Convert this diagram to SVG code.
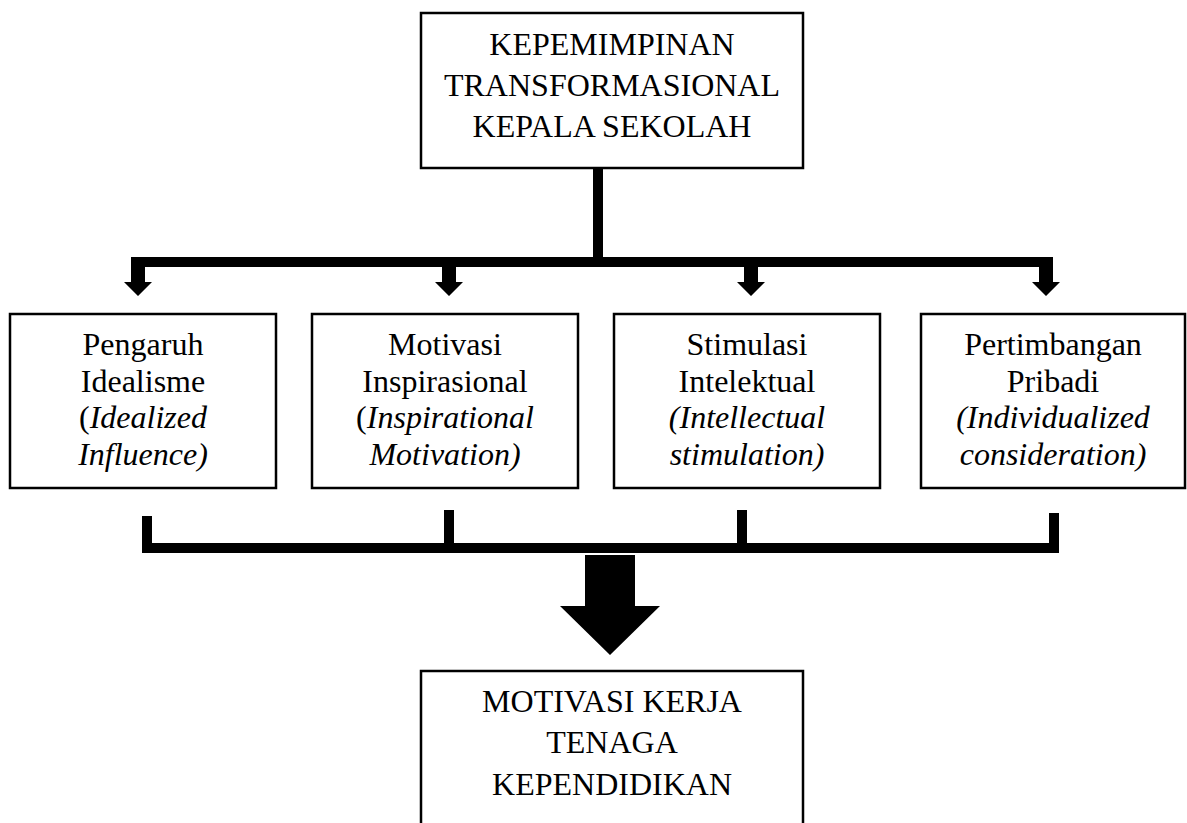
<svg xmlns="http://www.w3.org/2000/svg" width="1187" height="823" viewBox="0 0 1187 823">
<style>
.box{fill:#fff;stroke:#000;stroke-width:2.5}
.t{font-family:"Liberation Serif","Times New Roman",serif;font-size:32px;fill:#000;text-anchor:middle}
.i{font-style:italic}
.k{fill:#000;stroke:none}
</style>
<rect width="1187" height="823" fill="#fff"/>
<g id="connectors">
<rect class="k" x="593" y="168" width="10" height="99"/>
<rect class="k" x="131" y="257" width="922" height="10"/>
<path class="k" d="M131,267 h14 v15 h7 l-14,14 l-14,-14 h7 z"/>
<path class="k" d="M442,267 h14 v15 h7 l-14,14 l-14,-14 h7 z"/>
<path class="k" d="M744,267 h14 v15 h7 l-14,14 l-14,-14 h7 z"/>
<path class="k" d="M1039,267 h14 v15 h7 l-14,14 l-14,-14 h7 z"/>
<rect class="k" x="142" y="516" width="10" height="37"/>
<rect class="k" x="444" y="510" width="10" height="43"/>
<rect class="k" x="737" y="510" width="10" height="43"/>
<rect class="k" x="1049" y="513" width="10" height="40"/>
<rect class="k" x="142" y="543" width="917" height="10"/>
<path class="k" d="M585,555 h50 v51 h25 l-50,49 l-50,-49 h25 z"/>
</g>
<g id="top">
<rect class="box" x="421" y="13" width="382" height="155"/>
<text class="t" x="612" y="55">KEPEMIMPINAN</text>
<text class="t" x="612" y="96">TRANSFORMASIONAL</text>
<text class="t" x="612" y="137">KEPALA SEKOLAH</text>
</g>
<g id="n1">
<rect class="box" x="10" y="314" width="266" height="174"/>
<text class="t" x="143" y="355">Pengaruh</text>
<text class="t" x="143" y="392">Idealisme</text>
<text class="t" x="143" y="428">(<tspan class="i">Idealized</tspan></text>
<text class="t i" x="143" y="465">Influence)</text>
</g>
<g id="n2">
<rect class="box" x="312" y="314" width="266" height="174"/>
<text class="t" x="445" y="355">Motivasi</text>
<text class="t" x="445" y="392">Inspirasional</text>
<text class="t" x="445" y="428">(<tspan class="i">Inspirational</tspan></text>
<text class="t i" x="445" y="465">Motivation)</text>
</g>
<g id="n3">
<rect class="box" x="614" y="314" width="266" height="174"/>
<text class="t" x="747" y="355">Stimulasi</text>
<text class="t" x="747" y="392">Intelektual</text>
<text class="t i" x="747" y="428">(Intellectual</text>
<text class="t i" x="747" y="465">stimulation)</text>
</g>
<g id="n4">
<rect class="box" x="921" y="314" width="264" height="174"/>
<text class="t" x="1053" y="355">Pertimbangan</text>
<text class="t" x="1053" y="392">Pribadi</text>
<text class="t i" x="1053" y="428">(Individualized</text>
<text class="t i" x="1053" y="465">consideration)</text>
</g>
<g id="bottom">
<rect class="box" x="421" y="671" width="382" height="180"/>
<text class="t" x="612" y="712">MOTIVASI KERJA</text>
<text class="t" x="612" y="753">TENAGA</text>
<text class="t" x="612" y="795">KEPENDIDIKAN</text>
</g>
</svg>
